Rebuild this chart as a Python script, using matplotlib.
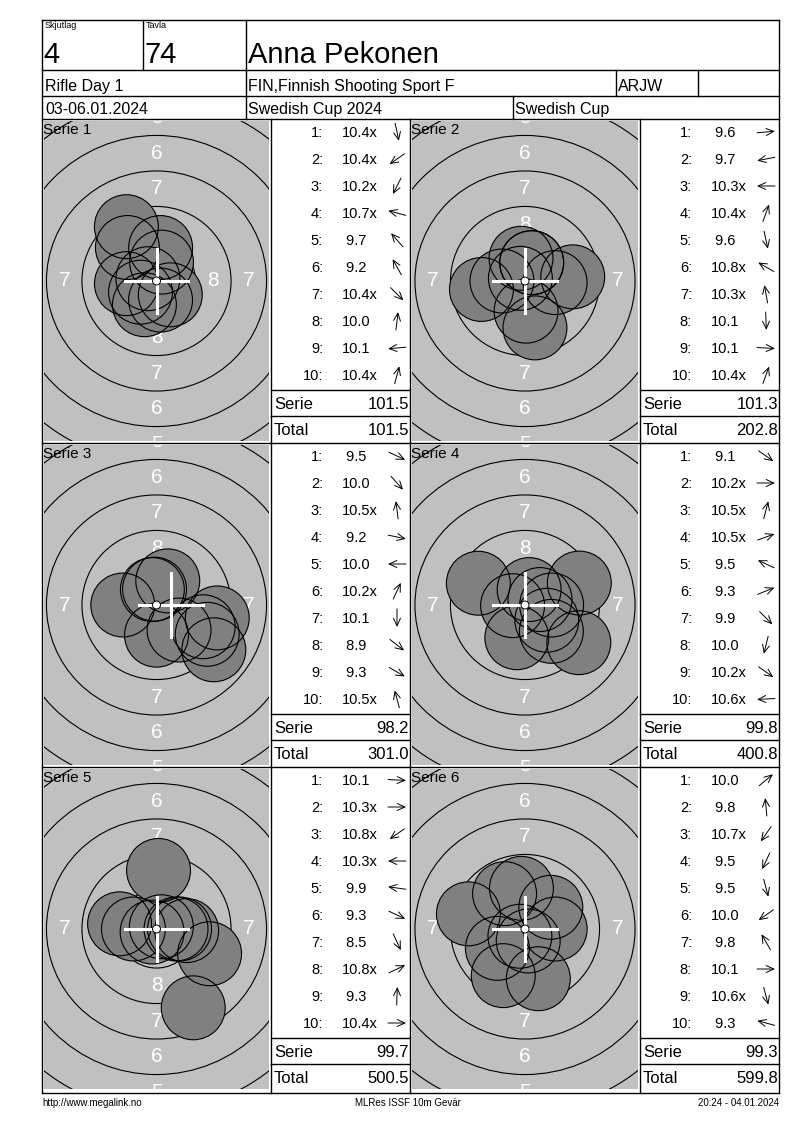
import numpy as np
import matplotlib.pyplot as plt
from matplotlib.patches import Circle

plt.rcParams['font.family'] = ['Liberation Sans', 'DejaVu Sans']

# Fejléc adatok
skjutlag = '4'
tavla = '74'
name = 'Anna Pekonen'
event = 'Rifle Day 1'
club = 'FIN,Finnish Shooting Sport F'
klass = 'ARJW'
dates = '03-06.01.2024'
match = 'Swedish Cup 2024'
cup = 'Swedish Cup'
footer = ['http://www.megalink.no', 'MLRes ISSF 10m Gevär', '20:24 - 04.01.2024']

# Lövések (érték) és irány (fok, 0 = jobbra, 90 = fel)
serie1_scores = ['10.4x', '10.4x', '10.2x', '10.7x', '9.7', '9.2', '10.4x', '10.0', '10.1', '10.4x']
serie1_dir = [-78, 215, 243, 165, 131, 119, -45, 83, 185, 75]
serie2_scores = ['9.6', '9.7', '10.3x', '10.4x', '9.6', '10.8x', '10.3x', '10.1', '10.1', '10.4x']
serie2_dir = [5, 191, 180, 70, -78, 150, 100, -88, -3, 70]
serie3_scores = ['9.5', '10.0', '10.5x', '9.2', '10.0', '10.2x', '10.1', '8.9', '9.3', '10.5x']
serie3_dir = [-25, -48, 97, -12, 180, 65, -90, -38, -30, 105]
serie4_scores = ['9.1', '10.2x', '10.5x', '10.5x', '9.5', '9.3', '9.9', '10.0', '10.2x', '10.6x']
serie4_dir = [-35, 0, 75, 20, 155, 22, -45, -104, -35, 183]
serie5_scores = ['10.1', '10.3x', '10.8x', '10.3x', '9.9', '9.3', '8.5', '10.8x', '9.3', '10.4x']
serie5_dir = [-3, 0, 215, 180, 172, -25, -65, 25, 88, 0]
serie6_scores = ['10.0', '9.8', '10.7x', '9.5', '9.5', '10.0', '9.8', '10.1', '10.6x', '9.3']
serie6_dir = [40, 95, 235, 245, -75, 215, 120, 0, -75, 165]

# a fehér kereszt eltolása (mm) sorozatonként
cross_offset = [0, 0, 1.05, 0, 0, 0]

all_scores = [serie1_scores, serie2_scores, serie3_scores, serie4_scores, serie5_scores, serie6_scores]
all_dirs = [serie1_dir, serie2_dir, serie3_dir, serie4_dir, serie5_dir, serie6_dir]

W, H = 800, 1130
PX_MM = 14.2

fig = plt.figure(figsize=(W / 100, H / 100), dpi=100)
page = fig.add_axes([0, 0, 1, 1])
page.set_xlim(0, W)
page.set_ylim(H, 0)
page.axis('off')


def line(x0, y0, x1, y1):
    page.plot([x0, x1], [y0, y1], color='black', lw=1.0, solid_capstyle='projecting')


# Keret és fejléc rács
L, R, T, B = 42, 779, 20, 1093
line(L, T, R, T)
line(L, B, R, B)
line(L, T, L, B)
line(R, T, R, B)
for y in [70, 96, 119, 443, 767]:
    line(L, y, R, y)
line(143, T, 143, 70)
line(246, T, 246, 119)
line(616, 70, 616, 96)
line(698, 70, 698, 96)
line(513, 96, 513, 119)
for x in [271, 410, 640]:
    line(x, 119, x, B)

page.text(45, 21, 'Skjutlag', fontsize=6.5, va='top')
page.text(146, 21, 'Tavla', fontsize=6.5, va='top')
page.text(43, 63, skjutlag, fontsize=21, va='baseline')
page.text(145, 63, tavla, fontsize=21, va='baseline')
page.text(248, 63, name, fontsize=21, va='baseline')
page.text(45, 91, event, fontsize=11.5, va='baseline')
page.text(248, 91, club, fontsize=11.5, va='baseline')
page.text(618, 91, klass, fontsize=11.5, va='baseline')
page.text(45, 114, dates, fontsize=11.5, va='baseline')
page.text(248, 114, match, fontsize=11.5, va='baseline')
page.text(515, 114, cup, fontsize=11.5, va='baseline')

page.text(42, 1103, footer[0], fontsize=7, va='center', ha='left')
page.text(408, 1103, footer[1], fontsize=7, va='center', ha='center')
page.text(779, 1103, footer[2], fontsize=7, va='center', ha='right')

total = 0.0
for k in range(6):
    col, row = k % 2, k // 2
    px0 = [42, 410][col]
    pw = [229, 230][col]
    lx0 = [271, 640][col]
    ptop = [119, 443, 767][row]
    ph = 324

    # céltábla
    ax = fig.add_axes([(px0 + 2) / W, 1 - (ptop + ph - 2) / H, (pw - 4) / W, (ph - 4) / H])
    hw = (pw - 4) / 2 / PX_MM
    hh = (ph - 4) / 2 / PX_MM
    ax.set_xlim(-hw, hw)
    ax.set_ylim(-hh, hh)
    ax.set_facecolor('#c0c0c0')
    ax.set_xticks([])
    ax.set_yticks([])
    for s in ax.spines.values():
        s.set_visible(False)

    for n in range(1, 10):
        r = 0.25 + (10 - n) * 2.5
        ax.add_patch(Circle((0, 0), r, fill=False, ec='black', lw=0.8, zorder=1))
    for n in range(1, 9):
        rm = 0.25 + (10 - n) * 2.5 - 1.25
        for x, y in [(rm, 0), (-rm, 0), (0, rm), (0, -rm)]:
            # csak a látható gyűrűszámok
            if abs(x) < hw and abs(y) < hh + 0.6:
                ax.text(x, y, str(n), color='white', fontsize=15, ha='center', va='center',
                        zorder=2, clip_on=True)

    vals = np.array([float(s.rstrip('x')) for s in all_scores[k]])
    d = (11.0 - vals - 0.05) * 2.5
    a = np.radians(all_dirs[k])
    xs, ys = d * np.cos(a), d * np.sin(a)
    for x, y in zip(xs, ys):
        ax.add_patch(Circle((x, y), 2.25, fc='#808080', ec='none', zorder=3))
    for x, y in zip(xs, ys):
        ax.add_patch(Circle((x, y), 2.25, fill=False, ec='black', lw=0.8, zorder=4))

    cx = cross_offset[k]
    ax.plot([cx - 2.25, cx + 2.25], [0, 0], color='white', lw=2.2, zorder=5)
    ax.plot([cx, cx], [-2.25, 2.25], color='white', lw=2.2, zorder=5)
    ax.add_patch(Circle((0, 0), 0.28, fc='white', ec='black', lw=0.7, zorder=6))

    ax.text(-hw - 1 / PX_MM, hh - 13 / PX_MM, 'Serie %d' % (k + 1), fontsize=11,
            va='baseline', ha='left', zorder=10, clip_on=False)

    # lövéslista
    for i, s in enumerate(all_scores[k]):
        yb = ptop + 18 + 27 * i
        page.text(lx0 + 52, yb, '%d:' % (i + 1), fontsize=10.5, ha='right', va='baseline')
        txt = s if vals[i] >= 10 else ' ' + s
        page.text(lx0 + 71, yb, txt, fontsize=10.5, ha='left', va='baseline')
        ang = np.radians(all_dirs[k][i])
        acx, acy = lx0 + 126, yb - 5
        ddx, ddy = 9 * np.cos(ang), -9 * np.sin(ang)
        page.annotate('', xy=(acx + ddx, acy + ddy), xytext=(acx - ddx, acy - ddy),
                      arrowprops=dict(arrowstyle='->,head_length=0.55,head_width=0.25',
                                      lw=0.7, color='black', shrinkA=0, shrinkB=0,
                                      mutation_scale=10))

    serie_sum = round(vals.sum(), 1)
    total = round(total + serie_sum, 1)
    line(lx0, ptop + 271, [410, 779][col], ptop + 271)
    line(lx0, ptop + 297, [410, 779][col], ptop + 297)
    page.text(lx0 + 3, ptop + 290, 'Serie', fontsize=12, va='baseline')
    page.text(lx0 + 138, ptop + 290, '%.1f' % serie_sum, fontsize=12, va='baseline', ha='right')
    page.text(lx0 + 3, ptop + 316, 'Total', fontsize=12, va='baseline')
    page.text(lx0 + 138, ptop + 316, '%.1f' % total, fontsize=12, va='baseline', ha='right')

fig.savefig('out.png', dpi=100)
